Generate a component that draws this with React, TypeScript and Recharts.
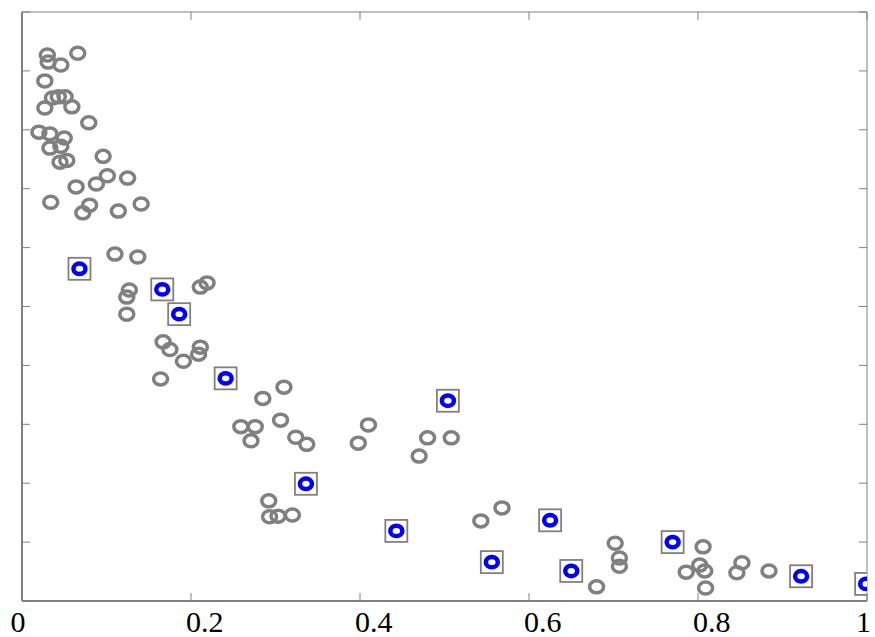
import React from 'react';
import { ScatterChart, Scatter, XAxis, YAxis } from 'recharts';

// gray samples (x, y)
const grayX = [0.030, 0.031, 0.046, 0.066, 0.027, 0.027, 0.036, 0.043, 0.051, 0.059, 0.079, 0.020, 0.033, 0.050, 0.033, 0.046, 0.045, 0.053, 0.096, 0.088, 0.101, 0.125, 0.064, 0.034, 0.080, 0.072, 0.114, 0.141, 0.110, 0.137, 0.127, 0.124, 0.124, 0.211, 0.219, 0.167, 0.175, 0.191, 0.211, 0.209, 0.164, 0.285, 0.310, 0.259, 0.276, 0.271, 0.306, 0.324, 0.337, 0.398, 0.410, 0.480, 0.508, 0.470, 0.292, 0.293, 0.303, 0.320, 0.543, 0.568, 0.702, 0.707, 0.707, 0.680, 0.786, 0.802, 0.806, 0.808, 0.809, 0.846, 0.852, 0.884];
const grayY = [9.27, 9.15, 9.10, 9.30, 8.83, 8.37, 8.54, 8.56, 8.56, 8.39, 8.12, 7.96, 7.93, 7.86, 7.69, 7.72, 7.45, 7.48, 7.55, 7.08, 7.22, 7.18, 7.03, 6.77, 6.72, 6.59, 6.62, 6.74, 5.89, 5.84, 5.28, 5.16, 4.87, 5.33, 5.40, 4.40, 4.27, 4.07, 4.31, 4.19, 3.77, 3.44, 3.63, 2.96, 2.96, 2.72, 3.07, 2.78, 2.66, 2.68, 2.99, 2.77, 2.77, 2.46, 1.70, 1.43, 1.44, 1.46, 1.36, 1.58, 0.98, 0.73, 0.59, 0.24, 0.49, 0.61, 0.92, 0.51, 0.22, 0.48, 0.65, 0.51];

// highlighted samples
const blueX = [0.068, 0.166, 0.186, 0.241, 0.336, 0.443, 0.504, 0.556, 0.625, 0.650, 0.770, 0.922, 0.999];
const blueY = [5.64, 5.29, 4.87, 3.78, 1.99, 1.19, 3.40, 0.66, 1.37, 0.51, 1.00, 0.42, 0.29];

const xTicks = [0, 0.2, 0.4, 0.6, 0.8, 1];
const yTicks = [0, 1, 2, 3, 4, 5, 6, 7, 8, 9, 10];

const grayData = grayX.map((x, i) => ({ x, y: grayY[i] }));
const blueData = blueX.map((x, i) => ({ x, y: blueY[i] }));

const AXIS = '#808080';
const FONT = '"Liberation Serif", "Times New Roman", serif';

const GrayMark = (p: any) => (
  <ellipse cx={p.cx} cy={p.cy} rx={7} ry={6} fill="none" stroke="#808080" strokeWidth={3.5} />
);

const BlueMark = (p: any) => (
  <g>
    <rect x={p.cx - 11} y={p.cy - 11} width={22} height={22} fill="#fff" stroke="#808080" strokeWidth={1.8} />
    <ellipse cx={p.cx} cy={p.cy} rx={6} ry={5.2} fill="#fff" stroke="#0000ff" strokeWidth={4.5} />
  </g>
);

const NoMark = () => <g />;

const BottomTick = (p: any) => (
  <g>
    <line x1={p.x} y1={p.y} x2={p.x} y2={p.y - 8} stroke={AXIS} strokeWidth={1} />
    <text x={p.x} y={p.y + 31} textAnchor={p.payload.value === 0 ? 'middle' : 'start'}
      dx={p.payload.value === 0 ? -4 : (p.payload.value === 1 ? -11 : -5)}
      fontFamily={FONT} fontSize={30} fill="#000">
      {p.payload.value}
    </text>
  </g>
);

const TopTick = (p: any) => (
  <line x1={p.x} y1={p.y} x2={p.x} y2={p.y + 8} stroke={AXIS} strokeWidth={1} />
);

const LeftTick = (p: any) => (
  <line x1={p.x} y1={p.y} x2={p.x + 8} y2={p.y} stroke={AXIS} strokeWidth={1} />
);

const RightTick = (p: any) => (
  <line x1={p.x} y1={p.y} x2={p.x - 8} y2={p.y} stroke={AXIS} strokeWidth={1} />
);

export default function App() {
  return (
    <div style={{ position: 'absolute', left: 0, top: 0, background: '#fff' }}>
      <ScatterChart width={875} height={637} margin={{ top: 11, right: 7, left: 21, bottom: 0 }}>
        <XAxis xAxisId="b" type="number" dataKey="x" domain={[0, 1]} ticks={xTicks} height={36}
          axisLine={{ stroke: AXIS, strokeWidth: 2 }} tickLine={false} tickSize={0} tickMargin={0}
          tick={<BottomTick />} allowDataOverflow />
        <XAxis xAxisId="t" orientation="top" type="number" dataKey="x" domain={[0, 1]} ticks={xTicks} height={1}
          axisLine={{ stroke: AXIS, strokeWidth: 1 }} tickLine={false} tickSize={0} tickMargin={0}
          tick={<TopTick />} allowDataOverflow />
        <YAxis yAxisId="l" type="number" dataKey="y" domain={[0, 10]} ticks={yTicks} width={1}
          axisLine={{ stroke: AXIS, strokeWidth: 2 }} tickLine={false} tickSize={0} tickMargin={0}
          tick={<LeftTick />} allowDataOverflow />
        <YAxis yAxisId="r" orientation="right" type="number" dataKey="y" domain={[0, 10]} ticks={yTicks} width={1}
          axisLine={{ stroke: AXIS, strokeWidth: 1 }} tickLine={false} tickSize={0} tickMargin={0}
          tick={<RightTick />} allowDataOverflow />
        <Scatter xAxisId="t" yAxisId="r" data={blueData} shape={<NoMark />} isAnimationActive={false} />
        <Scatter xAxisId="b" yAxisId="l" data={grayData} shape={<GrayMark />} isAnimationActive={false} />
        <Scatter xAxisId="b" yAxisId="l" data={blueData} shape={<BlueMark />} isAnimationActive={false} />
      </ScatterChart>
    </div>
  );
}
